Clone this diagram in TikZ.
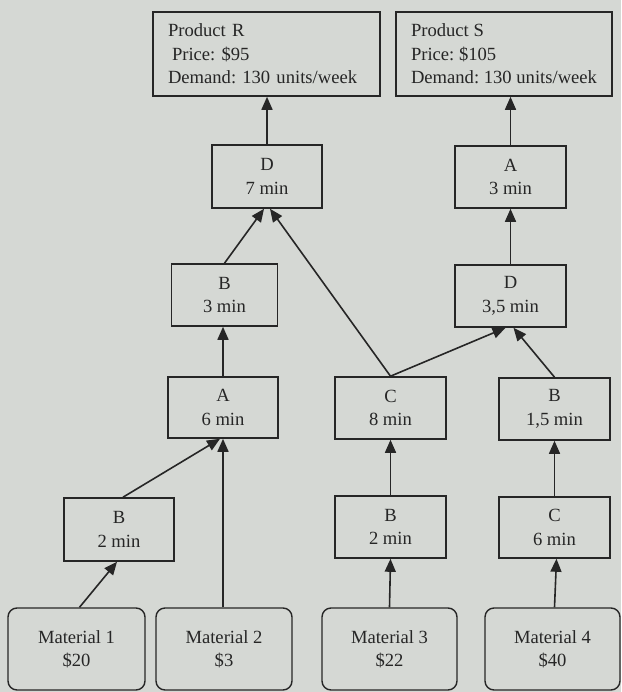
\documentclass[tikz,border=0pt]{standalone}
\usepackage{fontspec}
\setmainfont{Liberation Serif}
\usetikzlibrary{arrows.meta}
\definecolor{paper}{HTML}{D5D8D4}
\definecolor{ink}{HTML}{262626}
\tikzset{
  opbox/.style={draw=ink, line width=1.6pt, rectangle, align=center,
    text=ink, inner sep=0pt},
  prodbox/.style={draw=ink, line width=1.6pt, rectangle, align=left,
    text=ink, inner xsep=0pt, inner ysep=0pt, anchor=center, minimum height=84pt},
  matbox/.style={draw=ink, line width=1.4pt, rectangle, rounded corners=9pt,
    align=center, text=ink, inner sep=0pt},
  flow/.style={draw=ink, line width=1.6pt,
    -{Triangle[length=13pt,width=11pt]}},
}
\begin{document}
\frenchspacing
\begin{tikzpicture}[x=1pt,y=-1pt, font=\fontsize{18.6}{23.5}\selectfont]
  \fill[paper] (0,0) rectangle (621,692);
  \useasboundingbox (0,0) rectangle (621,692);

  % finished products
  \node[prodbox, inner xsep=15pt, minimum width=227pt, text width=197pt]
    (PR) at (266.5,54) {Product R\\\hspace{4pt}Price: \$95\\Demand: 130 units/week};
  \node[prodbox, minimum width=216pt]
    (PS) at (504,54) {Product S\\Price: \$105\\Demand: 130 units/week};

  % operations, product R branch
  \node[opbox, minimum width=110pt, minimum height=63pt] (D1) at (267,176.5) {D\\7 min};
  \node[opbox, minimum width=106pt, minimum height=62pt] (B3) at (224.5,295) {B\\3 min};
  \node[opbox, minimum width=110pt, minimum height=61pt] (A6) at (223,407.5) {A\\6 min};
  \node[opbox, minimum width=110pt, minimum height=63pt] (B2L) at (119,529.5) {B\\2 min};
  \node[opbox, minimum width=111pt, minimum height=62pt] (C8) at (390.5,408) {C\\8 min};
  \node[opbox, minimum width=111pt, minimum height=62pt] (B2M) at (390.5,527) {B\\2 min};

  % operations, product S branch
  \node[opbox, minimum width=111pt, minimum height=62pt] (A3) at (510.5,177) {A\\3 min};
  \node[opbox, minimum width=111pt, minimum height=62pt] (D35) at (510.5,296) {D\\3,5 min};
  \node[opbox, minimum width=111pt, minimum height=62pt] (B15) at (554.5,409) {B\\1,5 min};
  \node[opbox, minimum width=111pt, minimum height=61pt] (C6) at (554.5,527.5) {C\\6 min};

  % raw materials
  \node[matbox, minimum width=137pt, minimum height=82pt] (M1) at (76.5,649) {Material 1\\\$20};
  \node[matbox, minimum width=136pt, minimum height=82pt] (M2) at (224,649) {Material 2\\\$3};
  \node[matbox, minimum width=135pt, minimum height=82pt] (M3) at (389.5,649) {Material 3\\\$22};
  \node[matbox, minimum width=135pt, minimum height=82pt] (M4) at (552.5,649) {Material 4\\\$40};

  % material flow
  \draw[flow] (D1.north) -- (PR.south -| D1.north);
  \draw[flow] (B3.north) -- ([xshift=-3pt]D1.south);
  \draw[flow] (C8.north) -- ([xshift=3pt]D1.south);
  \draw[flow] (A6.north) -- (B3.south -| A6.north);
  \draw[flow] ([xshift=4pt]B2L.north) -- ([xshift=-3pt]A6.south);
  \draw[flow] (M2.north -| A6.south) -- (A6.south);
  \draw[flow] ([xshift=3pt]M1.north) -- ([xshift=-2pt]B2L.south);
  \draw[flow] (M3.north) -- (B2M.south);
  \draw[flow] (B2M.north) -- (C8.south);
  \draw[flow] (C8.north) -- ([xshift=-5pt]D35.south);
  \draw[flow] ([xshift=2pt]M4.north) -- ([xshift=2pt]C6.south);
  \draw[flow] (C6.north) -- (B15.south);
  \draw[flow] (B15.north) -- ([xshift=3pt]D35.south);
  \draw[flow] (D35.north) -- (A3.south);
  \draw[flow] (A3.north) -- (PS.south -| A3.north);
\end{tikzpicture}
\end{document}
